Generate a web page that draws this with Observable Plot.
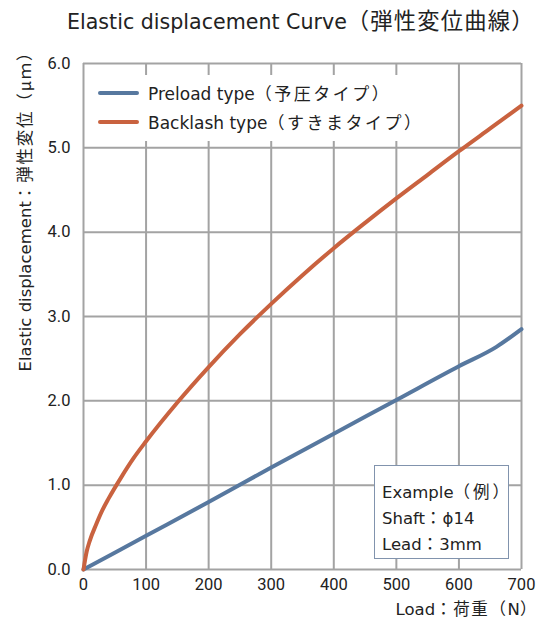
<!DOCTYPE html>
<html>
<head>
<meta charset="utf-8">
<script src="https://cdn.jsdelivr.net/npm/d3@7"></script>
<script src="https://cdn.jsdelivr.net/npm/@observablehq/plot@0.6"></script>
<style>
  html, body { margin: 0; padding: 0; background: #fff; }
  #wrap { position: relative; width: 539px; height: 622px; font-family: "DejaVu Sans", "Noto Sans CJK JP", sans-serif; color: #222; text-spacing-trim: space-all; }
  #wrap svg { position: absolute; left: 0; top: 0; }
  .abs { position: absolute; white-space: nowrap; }
  .j { font-family: "Noto Sans CJK JP", sans-serif; }
  #title { left: 67px; top: 5px; font-size: 20.6px; line-height: 28px; }
  #title .j { font-size: 22.3px; letter-spacing: 1.2px; }
  #ylab { left: -176px; top: 197px; width: 400px; height: 20px; line-height: 20px; font-size: 16.5px; text-align: center; transform: rotate(-90deg); }
  #ylab .j { font-size: 16.5px; letter-spacing: 1.8px; }
  #xlab { right: 1px; top: 598px; font-size: 16.5px; line-height: 20px; }
  #xlab .j { font-size: 16.5px; letter-spacing: 1.6px; }
  #legend { left: 87px; top: 75px; width: 333px; height: 66px; background: #fff; }
  .sw { position: absolute; left: 11px; width: 41px; height: 4px; border-radius: 2px; }
  .lt { position: absolute; left: 61px; font-size: 17px; line-height: 20px; }
  .lt .j { font-size: 17px; letter-spacing: 2.5px; }
  #example { left: 374px; top: 465px; width: 133px; height: 92px; background: #fff; border: 1.5px solid #8193ad; font-size: 16.5px; line-height: 26px; }
  #example div { position: absolute; left: 7px; }
  #example .j { font-size: 16.5px; letter-spacing: 3px; }
  #example .c { font-family: "Noto Sans CJK JP", sans-serif; font-size: 16.5px; margin-right: 1px; }
</style>
</head>
<body>
<div id="wrap">
  <div id="chart"></div>
  <div class="abs" id="title">Elastic displacement Curve<span class="j">（弾性変位曲線）</span></div>
  <div class="abs" id="ylab">Elastic displacement<span class="j">：弾性変位（μｍ）</span></div>
  <div class="abs" id="xlab">Load<span class="j">：荷重（</span>N<span class="j">）</span></div>
  <div class="abs" id="legend"></div>
  <div class="abs" id="example">
    <div style="top:12px">Example<span class="j">（例）</span></div>
    <div style="top:38px">Shaft<span class="c">：</span>ϕ14</div>
    <div style="top:64px">Lead<span class="c">：</span>3mm</div>
  </div>
</div>
<script>
// Data
const seriesLatin = ["Preload type", "Backlash type"];
const seriesJapanese = ["（予圧タイプ）", "（すきまタイプ）"];
const seriesColors = ["#57789f", "#c9623f"];

const preloadLoad = [0, 100, 200, 300, 400, 500, 600, 660, 700];
const preloadDisp = [0, 0.40, 0.80, 1.21, 1.61, 2.01, 2.41, 2.64, 2.85];

const backlashLoad = [0, 5, 10, 20, 30, 40, 60, 80, 100, 150, 200, 250, 300, 350, 400, 450, 500, 550, 600, 650, 700];
const backlashDisp = [0, 0.21, 0.34, 0.53, 0.70, 0.84, 1.09, 1.32, 1.52, 1.98, 2.40, 2.79, 3.15, 3.49, 3.81, 4.11, 4.40, 4.68, 4.96, 5.23, 5.50];

const xTicks = [0, 100, 200, 300, 400, 500, 600, 700];
const yTicks = [0, 1, 2, 3, 4, 5, 6];

const preload = preloadLoad.map((x, i) => ({x, y: preloadDisp[i]}));
const backlash = backlashLoad.map((x, i) => ({x, y: backlashDisp[i]}));

const plot = Plot.plot({
  width: 539,
  height: 622,
  marginTop: 63,
  marginBottom: 53,
  marginLeft: 83,
  marginRight: 18,
  style: {fontFamily: 'Roboto, "Noto Sans CJK JP", sans-serif', fontSize: "16px", color: "#222", background: "transparent"},
  x: {domain: [0, 700]},
  y: {domain: [0, 6]},
  marks: [
    Plot.gridX(xTicks, {stroke: "#a3a3a3", strokeOpacity: 1, strokeWidth: 2}),
    Plot.gridY(yTicks, {stroke: "#a3a3a3", strokeOpacity: 1, strokeWidth: 2}),
    Plot.line(preload, {x: "x", y: "y", stroke: seriesColors[0], strokeWidth: 4, curve: "monotone-x"}),
    Plot.line(backlash, {x: "x", y: "y", stroke: seriesColors[1], strokeWidth: 4, curve: "monotone-x"}),
    Plot.axisX(xTicks, {tickSize: 0, tickPadding: 9, label: null, fontSize: 16.5, tickFormat: d => String(d)}),
    Plot.axisY(yTicks, {tickSize: 0, tickPadding: 13, label: null, fontSize: 16.5, tickFormat: d => d.toFixed(1)})
  ]
});
document.getElementById("chart").appendChild(plot);

const legend = document.getElementById("legend");
seriesLatin.forEach((name, i) => {
  const sw = document.createElement("div");
  sw.className = "sw";
  sw.style.top = (16 + i * 29) + "px";
  sw.style.background = seriesColors[i];
  legend.appendChild(sw);
  const t = document.createElement("div");
  t.className = "lt";
  t.style.top = (8 + i * 29) + "px";
  t.textContent = name;
  const j = document.createElement("span");
  j.className = "j";
  j.textContent = seriesJapanese[i];
  t.appendChild(j);
  legend.appendChild(t);
});
</script>
</body>
</html>
